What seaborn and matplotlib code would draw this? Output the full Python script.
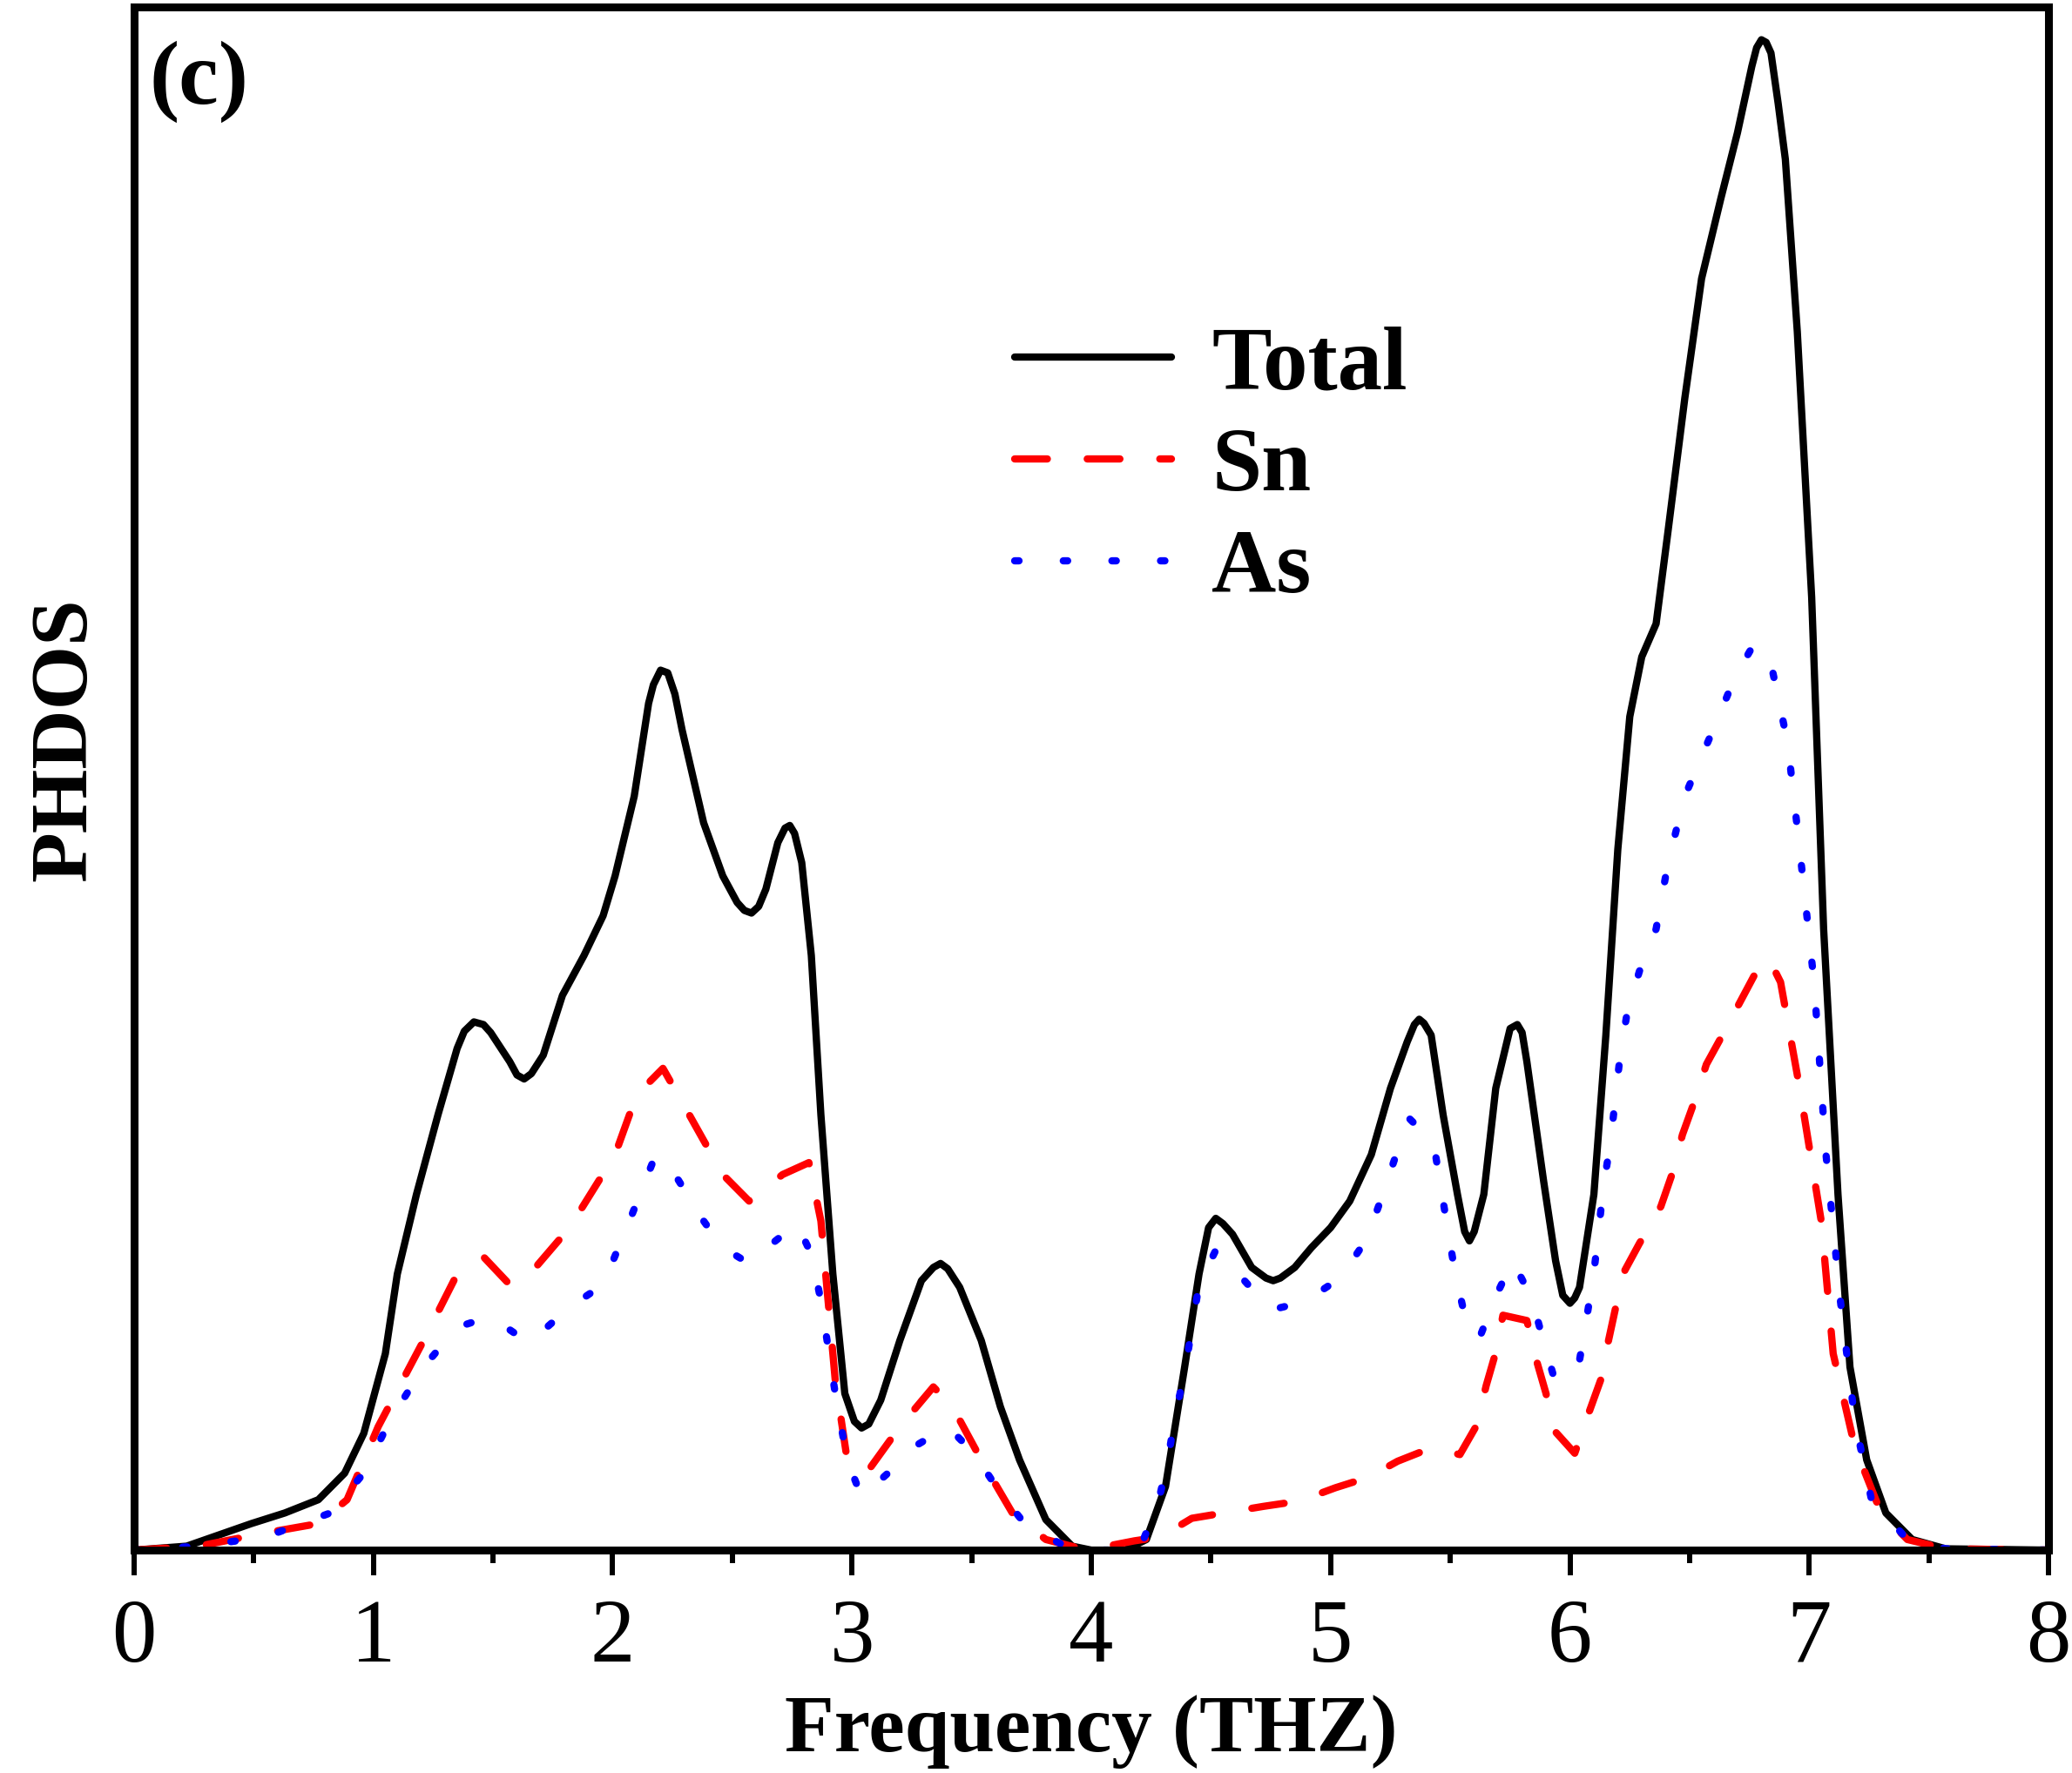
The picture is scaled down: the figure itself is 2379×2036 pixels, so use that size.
import matplotlib
matplotlib.use("Agg")
import matplotlib.pyplot as plt
import seaborn as sns

# PHDOS (arbitrary units, no y ticks)
total_x = [0, 0.22, 0.49, 0.63, 0.77, 0.88, 0.96, 1.05, 1.10, 1.18,
           1.27, 1.35, 1.38, 1.42, 1.46, 1.49, 1.57, 1.60, 1.63, 1.66,
           1.71, 1.79, 1.88, 1.96, 2.01, 2.09, 2.15, 2.17, 2.20, 2.23,
           2.26, 2.29, 2.38, 2.46, 2.52, 2.55, 2.58, 2.61, 2.64, 2.69,
           2.72, 2.74, 2.76, 2.79, 2.83, 2.87, 2.92, 2.97, 3.01, 3.04,
           3.07, 3.12, 3.20, 3.29, 3.34, 3.37, 3.40, 3.45, 3.54, 3.62,
           3.70, 3.81, 3.92, 4.0, 4.14, 4.23, 4.31, 4.39, 4.45, 4.49,
           4.52, 4.55, 4.59, 4.67, 4.73, 4.76, 4.79, 4.85, 4.92, 5.0,
           5.08, 5.17, 5.25, 5.32, 5.35, 5.37, 5.39, 5.42, 5.47, 5.53,
           5.56, 5.58, 5.60, 5.64, 5.69, 5.75, 5.78, 5.80, 5.82, 5.89,
           5.94, 5.97, 6.0, 6.02, 6.04, 6.10, 6.15, 6.20, 6.25, 6.30,
           6.36, 6.41, 6.48, 6.55, 6.63, 6.70, 6.76, 6.78, 6.80, 6.82,
           6.84, 6.87, 6.90, 6.95, 7.01, 7.06, 7.12, 7.17, 7.24, 7.32,
           7.43, 7.57, 8.0]
total_y = [0, 3, 20, 28, 38, 58, 88, 148, 208, 268,
           328, 378, 391, 398, 396, 390, 368, 358, 355, 359,
           373, 418, 448, 478, 508, 568, 638, 652, 663, 661,
           645, 618, 548, 508, 488, 482, 480, 485, 498, 533,
           544, 546, 540, 518, 448, 328, 208, 118, 97, 92,
           95, 113, 158, 203, 213, 216, 212, 198, 158, 108,
           68, 23, 3, 0, 0, 8, 48, 138, 208, 243,
           250, 246, 238, 213, 205, 203, 205, 213, 228, 243,
           263, 298, 348, 383, 396, 400, 397, 388, 328, 268,
           240, 233, 240, 268, 348, 393, 396, 390, 368, 278,
           218, 192, 186, 190, 198, 268, 388, 528, 628, 673,
           698, 768, 868, 958, 1018, 1068, 1118, 1132, 1138, 1136,
           1128, 1090, 1048, 918, 718, 468, 268, 138, 68, 28,
           8, 1, 0]

sn_x = [0, 0.27, 0.55, 0.77, 0.89, 1.02, 1.21, 1.35, 1.46, 1.57, 1.63, 1.82, 2.01, 2.10,
        2.21, 2.32, 2.46, 2.57, 2.71, 2.82, 2.87, 2.93, 2.98, 3.06, 3.20, 3.34, 3.42, 3.54,
        3.67, 3.81, 3.98, 4.18, 4.29, 4.42, 4.72, 4.87, 5.02, 5.16, 5.28, 5.42, 5.54, 5.61,
        5.65, 5.69, 5.72, 5.82, 5.86, 5.90, 5.93, 6.02, 6.08, 6.13, 6.16, 6.19, 6.23, 6.29,
        6.38, 6.43, 6.47, 6.52, 6.57, 6.64, 6.77, 6.83, 6.88, 6.96, 7.05, 7.10, 7.19, 7.30,
        7.41, 7.57, 8.0]
sn_y = [0, 3, 13, 20, 38, 93, 158, 208, 221, 200, 203, 243, 298, 343,
        363, 328, 283, 263, 283, 292, 248, 128, 68, 58, 93, 123, 108, 68,
        28, 8, 0, 7, 10, 24, 33, 37, 47, 55, 67, 77, 72, 94,
        124, 149, 177, 173, 143, 118, 91, 73, 104, 129, 157, 182, 211, 231,
        259, 285, 313, 338, 366, 389, 433, 446, 428, 348, 248, 148, 78, 28,
        8, 1, 0]

as_x = [0, 0.27, 0.55, 0.82, 0.96, 1.07, 1.21, 1.35, 1.49, 1.65, 1.82, 1.96, 2.07, 2.18,
        2.26, 2.38, 2.46, 2.57, 2.68, 2.77, 2.83, 2.87, 2.93, 2.98, 3.04, 3.15, 3.26, 3.40,
        3.51, 3.62, 3.73, 3.87, 4.0, 4.2, 4.28, 4.32, 4.35, 4.39, 4.42, 4.45, 4.52, 4.63,
        4.75, 4.89, 5.04, 5.15, 5.21, 5.27, 5.33, 5.43, 5.46, 5.49, 5.52, 5.56, 5.62, 5.69,
        5.76, 5.84, 5.89, 5.94, 6.04, 6.07, 6.10, 6.12, 6.14, 6.17, 6.19, 6.21, 6.24, 6.29,
        6.36, 6.41, 6.48, 6.55, 6.61, 6.69, 6.77, 6.84, 6.91, 6.96, 7.02, 7.07, 7.13, 7.19,
        7.26, 7.41, 7.57, 8.0]
as_y = [0, 3, 10, 28, 58, 98, 138, 168, 176, 156, 183, 200, 248, 298,
        283, 248, 228, 216, 233, 246, 223, 188, 118, 68, 40, 58, 78, 93,
        73, 43, 18, 5, 0, 0, 36, 68, 101, 134, 167, 200, 226, 205,
        181, 187, 205, 234, 264, 296, 325, 307, 274, 241, 209, 177, 159, 191,
        218, 190, 157, 126, 143, 175, 209, 241, 274, 308, 341, 373, 406, 436,
        468, 518, 568, 598, 623, 658, 683, 668, 608, 528, 428, 298, 188, 98,
        38, 8, 1, 0]

sns.set_style("ticks")
plt.rcParams['font.family'] = ['Liberation Serif', 'DejaVu Serif']
plt.rcParams['text.color'] = 'black'
plt.rcParams['axes.labelcolor'] = 'black'
plt.rcParams['axes.edgecolor'] = 'black'
plt.rcParams['xtick.color'] = 'black'

fig = plt.figure(figsize=(23.79, 20.36), dpi=100)
ax = fig.add_axes([0.0647, 0.1257, 0.924, 0.8706])

lw = 6
sns.lineplot(x=total_x, y=total_y, ax=ax, color='black', lw=lw, label='Total',
             solid_joinstyle='round')
sns.lineplot(x=sn_x, y=sn_y, ax=ax, color='#ff0000', lw=lw, label='Sn',
             linestyle=(0, (4.5, 5.5)), dash_capstyle='round')
sns.lineplot(x=as_x, y=as_y, ax=ax, color='#0000ff', lw=lw, label='As',
             linestyle=(0, (0.6, 6.1)), dash_capstyle='round')

ax.set_xlim(0, 8)
ax.set_ylim(0, 1163)
ax.set_xticks(range(9))
ax.set_xticks([i + 0.5 for i in range(8)], minor=True)
ax.set_yticks([])

for s in ax.spines.values():
    s.set_linewidth(6.5)
    s.set_visible(True)

ax.tick_params(axis='x', which='major', direction='out', length=21, width=4.3,
               labelsize=74, pad=19)
ax.tick_params(axis='x', which='minor', direction='out', length=11, width=4.3)

ax.set_xlabel('Frequency (THZ)', fontsize=67, fontweight='bold', labelpad=12)
ax.set_ylabel('PHDOS', fontsize=68, fontweight='bold')
ax.yaxis.set_label_coords(-0.016, 0.525)

ax.text(0.008, 0.978, '(c)', transform=ax.transAxes, fontsize=74,
        fontweight='bold', va='top', ha='left')

ax.legend(loc='upper left', bbox_to_anchor=(0.46, 0.793), frameon=False,
          prop={'size': 74, 'weight': 'bold'}, handlelength=1.75,
          handletextpad=0.45, labelspacing=0.22, borderpad=0, borderaxespad=0)

fig.savefig('out.png', dpi=100)
